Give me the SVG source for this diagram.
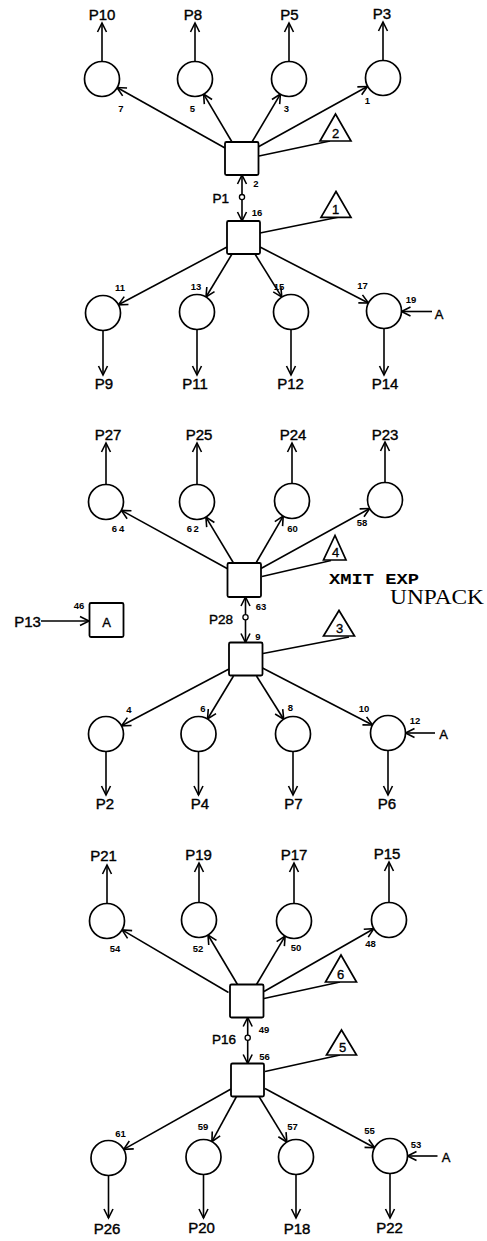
<svg xmlns="http://www.w3.org/2000/svg" width="487" height="1241" viewBox="0 0 487 1241">
<defs>
<style>
.ln{stroke:#000;stroke-width:1.6;fill:none}
.ar{marker-end:url(#ah)}
.pl{fill:#fff;stroke:#000;stroke-width:1.7}
.sq{fill:#fff;stroke:#000;stroke-width:1.8}
.tr{fill:#fff;stroke:#000;stroke-width:1.7;stroke-linejoin:miter}
.dot{fill:#fff;stroke:#000;stroke-width:1.3}
text{fill:#000;font-family:"Liberation Sans",Arial,sans-serif}
.lb{font-size:15px;text-anchor:middle;stroke:#000;stroke-width:0.4}
.ls{font-size:13.5px;text-anchor:end;stroke:#000;stroke-width:0.4}
.nm{font-size:9.5px;font-weight:bold;text-anchor:middle}
.tn{font-size:13px;text-anchor:middle;stroke:#000;stroke-width:0.35}
.ty{font-family:"Liberation Mono","Courier New",monospace;font-weight:bold;font-size:14px}
.sf{font-family:"Liberation Serif","Times New Roman",serif;font-size:20px}
</style>
<marker id="ah" markerUnits="userSpaceOnUse" orient="auto" markerWidth="20" markerHeight="20" viewBox="-10 -10 20 20" refX="0" refY="0" style="overflow:visible">
<path d="M-9,-4.5 L0,0 L-9,4.5" fill="none" stroke="#000" stroke-width="1.6"/>
</marker>
</defs>
<rect width="487" height="1241" fill="#fff"/>

<g id="connectors">
<!-- section 1 -->
<line class="ln ar" x1="102" y1="61.5" x2="102" y2="23"/>
<line class="ln ar" x1="195" y1="61.5" x2="195" y2="23"/>
<line class="ln ar" x1="289" y1="61.5" x2="289" y2="23"/>
<line class="ln ar" x1="383" y1="60.5" x2="383" y2="22"/>
<line class="ln ar" x1="225" y1="148" x2="117" y2="87.5"/>
<line class="ln ar" x1="232" y1="142" x2="203.6" y2="94.1"/>
<line class="ln ar" x1="252" y1="142" x2="280.4" y2="94.1"/>
<line class="ln ar" x1="258" y1="147" x2="367.4" y2="86.5"/>
<line class="ln" x1="259" y1="156" x2="330" y2="141"/>
<line class="ln ar" x1="242" y1="194.5" x2="242" y2="175"/>
<line class="ln ar" x1="242" y1="199.7" x2="242" y2="221"/>
<line class="ln" x1="260" y1="233" x2="338" y2="217.3"/>
<line class="ln ar" x1="227" y1="247" x2="118.4" y2="304.8"/>
<line class="ln ar" x1="232" y1="254" x2="206" y2="297"/>
<line class="ln ar" x1="255" y1="254" x2="281.8" y2="297.1"/>
<line class="ln ar" x1="260" y1="247" x2="368.4" y2="303"/>
<line class="ln ar" x1="103" y1="330.5" x2="103" y2="375"/>
<line class="ln ar" x1="197" y1="329.5" x2="197" y2="375"/>
<line class="ln ar" x1="291" y1="329.5" x2="291" y2="375"/>
<line class="ln ar" x1="384" y1="328.5" x2="384" y2="375"/>
<line class="ln ar" x1="432" y1="311.5" x2="401.5" y2="311.5"/>
<!-- section 2 -->
<line class="ln ar" x1="106" y1="484.5" x2="106" y2="443"/>
<line class="ln ar" x1="197" y1="484.5" x2="197" y2="443"/>
<line class="ln ar" x1="292" y1="483.5" x2="292" y2="443"/>
<line class="ln ar" x1="385" y1="482.5" x2="385" y2="442"/>
<line class="ln ar" x1="228" y1="569" x2="121.4" y2="510.4"/>
<line class="ln ar" x1="233.5" y1="563" x2="205.9" y2="517.1"/>
<line class="ln ar" x1="256" y1="563" x2="283.2" y2="516.1"/>
<line class="ln ar" x1="261" y1="568.5" x2="369.7" y2="508.5"/>
<line class="ln" x1="262" y1="576.5" x2="331" y2="560.5"/>
<line class="ln ar" x1="41" y1="621" x2="89" y2="621"/>
<line class="ln ar" x1="245.5" y1="614.7" x2="245.5" y2="597"/>
<line class="ln ar" x1="245.5" y1="620" x2="245.5" y2="642.5"/>
<line class="ln" x1="263" y1="653.5" x2="349" y2="637"/>
<line class="ln ar" x1="229" y1="669" x2="121.5" y2="725.8"/>
<line class="ln ar" x1="233.5" y1="676" x2="207.5" y2="719"/>
<line class="ln ar" x1="256.5" y1="676" x2="283.7" y2="719.2"/>
<line class="ln ar" x1="262.5" y1="668" x2="372.5" y2="725"/>
<line class="ln ar" x1="106" y1="751.5" x2="106" y2="795"/>
<line class="ln ar" x1="198.5" y1="751.5" x2="198.5" y2="795"/>
<line class="ln ar" x1="293" y1="751.5" x2="293" y2="795"/>
<line class="ln ar" x1="388" y1="750.5" x2="388" y2="795"/>
<line class="ln ar" x1="435" y1="733" x2="405.5" y2="733"/>
<!-- section 3 -->
<line class="ln ar" x1="107" y1="903.5" x2="107" y2="865"/>
<line class="ln ar" x1="199" y1="902.5" x2="199" y2="863"/>
<line class="ln ar" x1="294" y1="903.5" x2="294" y2="863"/>
<line class="ln ar" x1="389" y1="902.5" x2="389" y2="862"/>
<line class="ln ar" x1="228.5" y1="992.5" x2="122.1" y2="929.9"/>
<line class="ln ar" x1="237.5" y1="984.5" x2="208" y2="935"/>
<line class="ln ar" x1="256.5" y1="984.5" x2="285.1" y2="936.1"/>
<line class="ln ar" x1="264" y1="991.5" x2="373.8" y2="928.7"/>
<line class="ln" x1="264" y1="998.5" x2="340" y2="982"/>
<line class="ln ar" x1="247.7" y1="1035" x2="247.7" y2="1017.5"/>
<line class="ln ar" x1="247.7" y1="1040.4" x2="247.7" y2="1063.5"/>
<line class="ln" x1="265" y1="1071.5" x2="340" y2="1055"/>
<line class="ln ar" x1="231" y1="1089" x2="123.7" y2="1149.4"/>
<line class="ln ar" x1="236.5" y1="1096.5" x2="211.9" y2="1141.6"/>
<line class="ln ar" x1="259" y1="1096.5" x2="286.9" y2="1142.1"/>
<line class="ln ar" x1="265" y1="1088.5" x2="374.6" y2="1147.7"/>
<line class="ln ar" x1="108.5" y1="1175.5" x2="108.5" y2="1218"/>
<line class="ln ar" x1="203.5" y1="1174.5" x2="203.5" y2="1218"/>
<line class="ln ar" x1="296" y1="1174.5" x2="296" y2="1218"/>
<line class="ln ar" x1="390" y1="1173.5" x2="390" y2="1218"/>
<line class="ln ar" x1="437.5" y1="1156" x2="407.5" y2="1156"/>
</g>

<!-- ===== Section 1 ===== -->
<g id="p10"><circle class="pl" cx="102" cy="79" r="17.5"/><text class="lb" x="102" y="19.5">P10</text><text class="nm" x="121" y="111.5">7</text></g>
<g id="p8"><circle class="pl" cx="195" cy="79" r="17.5"/><text class="lb" x="193" y="19.5">P8</text><text class="nm" x="192.5" y="111.5">5</text></g>
<g id="p5"><circle class="pl" cx="289" cy="79" r="17.5"/><text class="lb" x="289.5" y="19.5">P5</text><text class="nm" x="286.5" y="111.5">3</text></g>
<g id="p3"><circle class="pl" cx="383" cy="78" r="17.5"/><text class="lb" x="382" y="18.5">P3</text><text class="nm" x="367.5" y="104">1</text></g>
<g id="t2"><rect class="sq" x="225" y="142" width="33.5" height="33" rx="1.5"/><text class="nm" x="256" y="187">2</text></g>
<g id="tri2"><polygon class="tr" points="320,141 351,141 335.5,114"/><text class="tn" x="335.5" y="137.5">2</text></g>
<g id="p1"><circle class="dot" cx="242" cy="197.1" r="2.6"/><text class="ls" x="229" y="203">P1</text></g>
<g id="t16"><rect class="sq" x="227" y="221" width="33" height="33" rx="1.5"/><text class="nm" x="257" y="216">16</text></g>
<g id="tri1"><polygon class="tr" points="321,217.3 351,217.3 336,191.5"/><text class="tn" x="335.5" y="213.5">1</text></g>
<g id="p9"><circle class="pl" cx="103" cy="313" r="17.5"/><text class="lb" x="104" y="388.5">P9</text><text class="nm" x="120" y="291">11</text></g>
<g id="p11"><circle class="pl" cx="197" cy="312" r="17.5"/><text class="lb" x="195" y="388.5">P11</text><text class="nm" x="196" y="290">13</text></g>
<g id="p12"><circle class="pl" cx="291" cy="312" r="17.5"/><text class="lb" x="290.5" y="388.5">P12</text><text class="nm" x="279" y="290">15</text></g>
<g id="p14"><circle class="pl" cx="384" cy="311" r="17.5"/><text class="lb" x="385" y="388.5">P14</text><text class="nm" x="362.5" y="289">17</text><text class="nm" x="411" y="303">19</text><text class="tn" x="439" y="318.5">A</text></g>

<!-- ===== Section 2 ===== -->
<g id="p27"><circle class="pl" cx="106" cy="502" r="17.5"/><text class="lb" x="108" y="439.5">P27</text><text class="nm" x="119" y="532" letter-spacing="2">64</text></g>
<g id="p25"><circle class="pl" cx="197" cy="502" r="17.5"/><text class="lb" x="199" y="439.5">P25</text><text class="nm" x="193.5" y="532" letter-spacing="1.5">62</text></g>
<g id="p24"><circle class="pl" cx="292" cy="501" r="17.5"/><text class="lb" x="293" y="439.5">P24</text><text class="nm" x="292.5" y="531.5">60</text></g>
<g id="p23"><circle class="pl" cx="385" cy="500" r="17.5"/><text class="lb" x="385" y="439.5">P23</text><text class="nm" x="362" y="526">58</text></g>
<g id="t63"><rect class="sq" x="227.5" y="563" width="33.5" height="34" rx="1.5"/><text class="nm" x="261" y="609.5">63</text></g>
<g id="tri4"><polygon class="tr" points="323.5,560 346,560 335,535.5"/><text class="tn" x="335.5" y="557">4</text></g>
<g id="note"><text class="ty" x="329" y="584" textLength="90" lengthAdjust="spacingAndGlyphs">XMIT EXP</text><text class="sf" x="390" y="604" textLength="94" lengthAdjust="spacingAndGlyphs">UNPACK</text></g>
<g id="a46"><rect class="sq" x="89.5" y="603" width="34" height="34" rx="1.5"/><text class="tn" x="106.5" y="626.5">A</text><text class="nm" x="79" y="608.5">46</text><text class="lb" x="27.5" y="627">P13</text></g>
<g id="p28"><circle class="dot" cx="245.5" cy="617.3" r="2.6"/><text class="ls" x="233" y="624">P28</text></g>
<g id="t9"><rect class="sq" x="229" y="642.5" width="33.5" height="33" rx="1.5"/><text class="nm" x="258" y="639.5">9</text></g>
<g id="tri3"><polygon class="tr" points="323.5,636 354.5,636 339,610.5"/><text class="tn" x="339.5" y="633">3</text></g>
<g id="p2"><circle class="pl" cx="106" cy="734" r="17.5"/><text class="lb" x="105" y="809">P2</text><text class="nm" x="129" y="712.5">4</text></g>
<g id="p4"><circle class="pl" cx="198.5" cy="734" r="17.5"/><text class="lb" x="200" y="809">P4</text><text class="nm" x="203" y="712">6</text></g>
<g id="p7"><circle class="pl" cx="293" cy="734" r="17.5"/><text class="lb" x="293.5" y="809">P7</text><text class="nm" x="290.5" y="711">8</text></g>
<g id="p6"><circle class="pl" cx="388" cy="733" r="17.5"/><text class="lb" x="387" y="809">P6</text><text class="nm" x="364" y="712">10</text><text class="nm" x="415" y="724">12</text><text class="tn" x="443.5" y="739">A</text></g>

<!-- ===== Section 3 ===== -->
<g id="p21"><circle class="pl" cx="107" cy="921" r="17.5"/><text class="lb" x="103.5" y="861">P21</text><text class="nm" x="115" y="951.5">54</text></g>
<g id="p19"><circle class="pl" cx="199" cy="920" r="17.5"/><text class="lb" x="198.5" y="859.5">P19</text><text class="nm" x="198" y="951.5">52</text></g>
<g id="p17"><circle class="pl" cx="294" cy="921" r="17.5"/><text class="lb" x="294" y="859.5">P17</text><text class="nm" x="296" y="950.5">50</text></g>
<g id="p15"><circle class="pl" cx="389" cy="920" r="17.5"/><text class="lb" x="387" y="858.5">P15</text><text class="nm" x="370.5" y="946.5">48</text></g>
<g id="t49"><rect class="sq" x="230" y="984.5" width="33.5" height="33" rx="1.5"/><text class="nm" x="264" y="1032.5">49</text></g>
<g id="tri6"><polygon class="tr" points="325.5,982 356.5,982 341,955"/><text class="tn" x="340.5" y="978.5">6</text></g>
<g id="p16"><circle class="dot" cx="247.7" cy="1037.7" r="2.6"/><text class="ls" x="236" y="1044">P16</text></g>
<g id="t56"><rect class="sq" x="231" y="1063.5" width="33" height="33" rx="1.5"/><text class="nm" x="264.5" y="1060">56</text></g>
<g id="tri5"><polygon class="tr" points="326.5,1055 356.5,1055 341.5,1030"/><text class="tn" x="342.5" y="1051.5">5</text></g>
<g id="p26"><circle class="pl" cx="108.5" cy="1158" r="17.5"/><text class="lb" x="107" y="1234">P26</text><text class="nm" x="120.5" y="1136.5">61</text></g>
<g id="p20"><circle class="pl" cx="203.5" cy="1157" r="17.5"/><text class="lb" x="201.5" y="1232.5">P20</text><text class="nm" x="203" y="1130">59</text></g>
<g id="p18"><circle class="pl" cx="296" cy="1157" r="17.5"/><text class="lb" x="297" y="1233.5">P18</text><text class="nm" x="292.5" y="1130">57</text></g>
<g id="p22"><circle class="pl" cx="390" cy="1156" r="17.5"/><text class="lb" x="389.5" y="1233">P22</text><text class="nm" x="369.5" y="1134">55</text><text class="nm" x="416" y="1148">53</text><text class="tn" x="446" y="1162">A</text></g>
</svg>
